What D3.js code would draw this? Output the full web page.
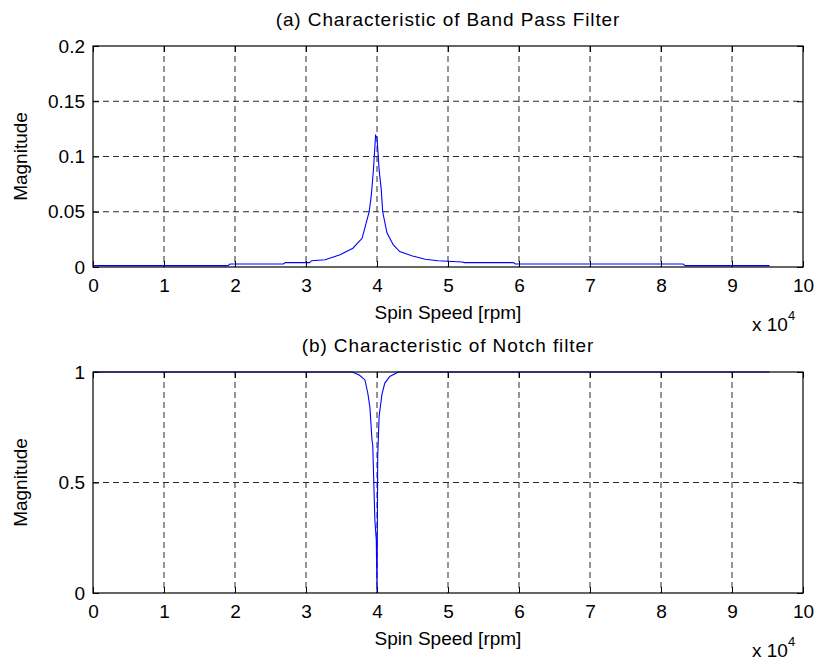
<!DOCTYPE html>
<html lang="en">
<head>
    <meta charset="utf-8">
    <title>Filter characteristics</title>
    <style type="text/css">
        body { margin: 0; background: #fff; }
        svg text { font-family: "Liberation Sans", Arial, Helvetica, sans-serif; fill: #000; }
        .grid line { stroke: #2a2a2a; stroke-dasharray: 6,4; stroke-width: 1; }
        .axis path { display: none; }
        .axis line { stroke: #000; }
        .axis text { font-size: 19px; }
        .title { font-size: 19px; letter-spacing: 0.9px; }
    </style>
</head>
<body>
<svg id="chart" width="817" height="660"></svg>

<script src="https://cdn.jsdelivr.net/npm/d3@7"></script>
<script>
    // x axis: spin speed in rpm (labels shown in units of 10^4)
    var xTicks = [0, 10000, 20000, 30000, 40000, 50000, 60000, 70000, 80000, 90000, 100000];

    // (a) band pass filter magnitude
    var bpRpm = [0, 19000, 19300, 26800, 27100, 30500, 30800, 32700, 34800, 36600, 37900, 38900,
                 39200, 39500, 39800, 40000, 40300, 40600, 40800, 41400, 42300, 43200, 45000,
                 46800, 48600, 52000, 52300, 59200, 59500, 83100, 83400, 95300];
    var bpMag = [0.0012, 0.0012, 0.0027, 0.0027, 0.004, 0.004, 0.0057, 0.0065, 0.011, 0.017, 0.026, 0.05,
                 0.065, 0.088, 0.119, 0.117, 0.088, 0.07, 0.05, 0.031, 0.02, 0.014, 0.010,
                 0.007, 0.0057, 0.0045, 0.004, 0.004, 0.0027, 0.0027, 0.0012, 0.0012];
    var bpTicks = [0, 0.05, 0.1, 0.15, 0.2];

    // (b) notch filter magnitude
    var nfRpm = [0, 36500, 37500, 38300, 38700, 39000, 39300, 39400, 39700, 39900, 40000,
                 40050, 40100, 40300, 40700, 41100, 41800, 43000, 95300];
    var nfMag = [1, 1, 0.986, 0.964, 0.905, 0.84, 0.69, 0.67, 0.33, 0.24, 0,
                 0.3, 0.62, 0.8, 0.9, 0.95, 0.98, 1, 1];
    var nfTicks = [0, 0.5, 1];

    var svg = d3.select('#chart');
    var left = 93, right = 803;

    function fmt(v) {
        return d3.format('~g')(v);
    }

    // one subplot, MATLAB style: box, inward ticks, dashed grid
    function drawPanel(opt) {
        var x = d3.scaleLinear().domain([0, 100000]).range([left, right]);
        var y = d3.scaleLinear().domain(opt.yDomain).range([opt.bottom, opt.top]);
        var g = svg.append('g');

        // grid
        var grid = g.append('g').attr('class', 'grid');
        grid.selectAll('line.v')
            .data(xTicks.slice(1, -1))
            .enter().append('line')
            .attr('x1', function(d) { return x(d); })
            .attr('x2', function(d) { return x(d); })
            .attr('y1', opt.top).attr('y2', opt.bottom);
        grid.selectAll('line.h')
            .data(opt.yTicks.slice(1, -1))
            .enter().append('line')
            .attr('x1', left).attr('x2', right)
            .attr('y1', function(d) { return y(d); })
            .attr('y2', function(d) { return y(d); });

        // data line
        var pts = d3.zip(opt.xs, opt.ys);
        g.append('path')
            .datum(pts)
            .attr('fill', 'none')
            .attr('stroke', '#0000ff')
            .attr('stroke-width', 1.1)
            .attr('d', d3.line()
                .x(function(d) { return x(d[0]); })
                .y(function(d) { return y(d[1]); }));

        // axes with inward ticks
        g.append('g').attr('class', 'axis')
            .attr('transform', 'translate(0,' + opt.bottom + ')')
            .call(d3.axisBottom(x).tickValues(xTicks).tickSizeInner(-6).tickSizeOuter(0)
                .tickPadding(12).tickFormat(function(d) { return fmt(d / 10000); }));
        g.append('g').attr('class', 'axis')
            .attr('transform', 'translate(0,' + opt.top + ')')
            .call(d3.axisTop(x).tickValues(xTicks).tickSizeInner(-6).tickSizeOuter(0).tickFormat(''));
        g.append('g').attr('class', 'axis')
            .attr('transform', 'translate(' + left + ',0)')
            .call(d3.axisLeft(y).tickValues(opt.yTicks).tickSizeInner(-6).tickSizeOuter(0)
                .tickPadding(8).tickFormat(fmt));
        g.append('g').attr('class', 'axis')
            .attr('transform', 'translate(' + right + ',0)')
            .call(d3.axisRight(y).tickValues(opt.yTicks).tickSizeInner(-6).tickSizeOuter(0).tickFormat(''));

        // box
        g.append('rect')
            .attr('x', left).attr('y', opt.top)
            .attr('width', right - left).attr('height', opt.bottom - opt.top)
            .attr('fill', 'none').attr('stroke', '#000').attr('stroke-width', 1.2);

        // labels
        g.append('text')
            .attr('class', 'title')
            .attr('x', (left + right) / 2).attr('y', opt.top - 20)
            .attr('text-anchor', 'middle')
            .text(opt.title);
        g.append('text')
            .attr('x', (left + right) / 2).attr('y', opt.bottom + 52)
            .attr('text-anchor', 'middle').style('font-size', '19px')
            .text('Spin Speed [rpm]');
        g.append('text')
            .attr('transform', 'translate(27,' + (opt.top + opt.bottom) / 2 + ') rotate(-90)')
            .attr('text-anchor', 'middle').style('font-size', '19px')
            .text('Magnitude');

        var ex = g.append('text')
            .attr('x', 752).attr('y', opt.bottom + 64)
            .style('font-size', '19px');
        ex.append('tspan').text('x 10');
        ex.append('tspan').attr('dy', -11).style('font-size', '13px').text('4');
    }

    drawPanel({
        top: 46, bottom: 267,
        yDomain: [0, 0.2], yTicks: bpTicks,
        xs: bpRpm, ys: bpMag,
        title: '(a) Characteristic of Band Pass Filter'
    });

    drawPanel({
        top: 372, bottom: 593,
        yDomain: [0, 1], yTicks: nfTicks,
        xs: nfRpm, ys: nfMag,
        title: '(b) Characteristic of Notch filter'
    });
</script>
</body>
</html>
